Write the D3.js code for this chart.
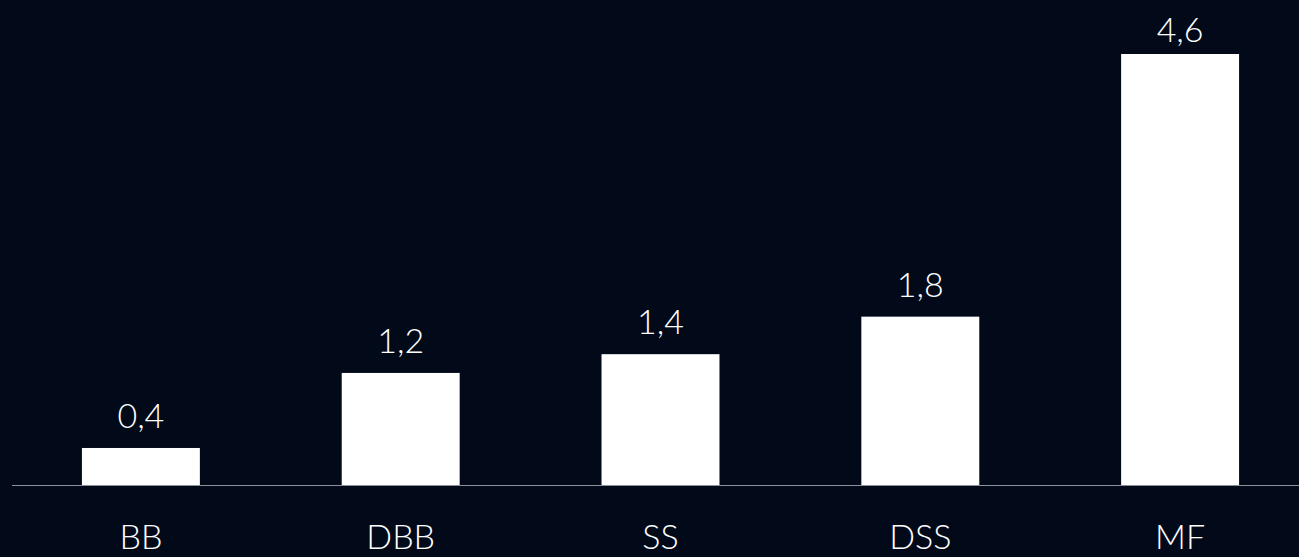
<!DOCTYPE html>
<html>
<head>
<meta charset="utf-8">
<script src="https://cdn.jsdelivr.net/npm/d3@7"></script>
<style>
  html, body { margin: 0; padding: 0; background: #020a1a; }
  svg { display: block; }
  text { font-family: Lato, "Open Sans", sans-serif; font-weight: 300; fill: #ffffff; }
</style>
</head>
<body>
<svg id="chart" width="1299" height="557"></svg>
<script>
// Category names and their values
const categories = ["BB", "DBB", "SS", "DSS", "MF"];
const values = [0.4, 1.2, 1.4, 1.8, 4.6];
const valueLabels = ["0,4", "1,2", "1,4", "1,8", "4,6"];

const width = 1299, height = 557;
const baseline = 485.5;
const fontSize = 34;

const svg = d3.select("#chart");

const x = d3.scaleBand()
  .domain(categories)
  .range([11, 1310])
  .paddingInner(0.546)
  .paddingOuter(0.273);

const y = d3.scaleLinear()
  .domain([0, 4.6])
  .range([baseline, 54]);

const data = categories.map((c, i) => ({ cat: c, value: values[i], label: valueLabels[i] }));

// Bars
svg.append("g")
  .selectAll("rect")
  .data(data)
  .join("rect")
  .attr("x", d => x(d.cat))
  .attr("y", d => y(d.value))
  .attr("width", x.bandwidth())
  .attr("height", d => baseline - y(d.value))
  .attr("fill", "#ffffff");

// Baseline axis with category labels
const axis = svg.append("g")
  .attr("transform", `translate(0,${baseline})`)
  .call(d3.axisBottom(x).tickSize(0).tickPadding(0));
axis.select(".domain").attr("stroke", "#8a8f99").attr("stroke-width", 1)
  .attr("d", "M12,0H1299");
axis.selectAll(".tick text")
  .attr("dy", null)
  .attr("y", 63.5)
  .style("font-size", fontSize + "px")
  .style("font-family", "Lato, \"Open Sans\", sans-serif")
  .style("font-weight", 300)
  .attr("fill", "#ffffff");

// Value labels above each bar (kept inside the top edge)
svg.append("g")
  .selectAll("text")
  .data(data)
  .join("text")
  .attr("x", d => x(d.cat) + x.bandwidth() / 2)
  .attr("y", d => Math.max(y(d.value) - 20, 42))
  .attr("text-anchor", "middle")
  .style("font-size", fontSize + "px")
  .text(d => d.label);
</script>
</body>
</html>
